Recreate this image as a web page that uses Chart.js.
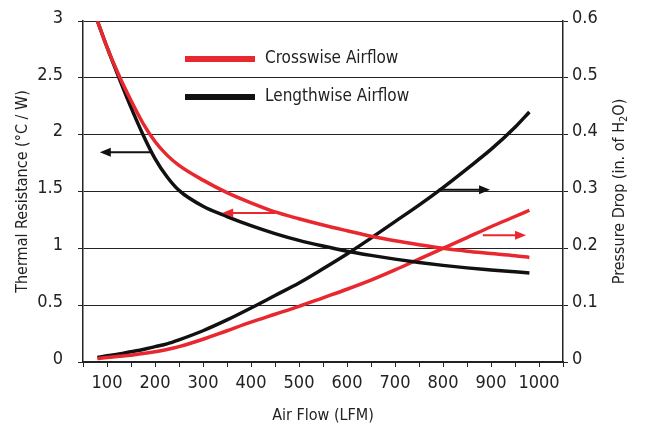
<!DOCTYPE html>
<html>
<head>
<meta charset="utf-8">
<script src="https://cdn.jsdelivr.net/npm/chart.js@4.4.1/dist/chart.umd.min.js"></script>
<style>
  html, body { margin: 0; padding: 0; background: #fff; }
  #wrap { width: 647px; height: 433px; }
</style>
</head>
<body>
<div id="wrap"><canvas id="chart" width="647" height="433"></canvas></div>
<script>
// Air flow (LFM) sample points shared by all four curves
const airflow = [80, 100, 125, 150, 175, 200, 225, 250, 300, 350, 400, 450, 500, 550, 600, 650, 700, 750, 800, 850, 900, 950, 980];

// Thermal resistance, deg C / W (left axis)
const resCross  = [3.0, 2.77, 2.52, 2.3, 2.1, 1.94, 1.82, 1.73, 1.6, 1.49, 1.4, 1.32, 1.26, 1.205, 1.155, 1.107, 1.067, 1.032, 1.0, 0.975, 0.955, 0.935, 0.92];
const resLength = [3.0, 2.77, 2.5, 2.24, 2.0, 1.79, 1.63, 1.51, 1.37, 1.28, 1.2, 1.13, 1.07, 1.02, 0.975, 0.938, 0.905, 0.876, 0.85, 0.828, 0.81, 0.793, 0.783];

// Pressure drop, in. of H2O (right axis)
const dropCross  = [0.006, 0.008, 0.01, 0.012, 0.015, 0.018, 0.022, 0.027, 0.04, 0.055, 0.07, 0.084, 0.098, 0.113, 0.128, 0.144, 0.162, 0.181, 0.2, 0.219, 0.238, 0.256, 0.267];
const dropLength = [0.008, 0.011, 0.014, 0.018, 0.022, 0.027, 0.032, 0.039, 0.055, 0.074, 0.095, 0.117, 0.139, 0.164, 0.19, 0.218, 0.247, 0.276, 0.307, 0.34, 0.374, 0.413, 0.44];

const seriesNames = ["Crosswise Airflow", "Lengthwise Airflow"];

// Arrows pointing each curve to its axis: [fromX, toX, yValue, axisId, color]
const arrows = [
  [194, 85, 1.845, "y", "#111"],
  [450, 340, 1.31, "y", "#e8282e"],
  [790, 898, 0.303, "y1", "#111"],
  [883, 973, 0.223, "y1", "#e8282e"],
];

const RED = "#e8282e";
const BLACK = "#111";
const INK = "#222";
const FONT = "'DejaVu Sans Condensed', 'Liberation Sans Narrow', sans-serif";

function pts(ys) {
  return airflow.map((x, i) => ({ x, y: ys[i] }));
}

function curve(label, ys, color, axis) {
  return {
    label,
    data: pts(ys),
    yAxisID: axis,
    borderColor: color,
    backgroundColor: color,
    borderWidth: 3.5,
    pointRadius: 0,
    cubicInterpolationMode: "monotone",
    fill: false,
  };
}

const arrowPlugin = {
  id: "arrows",
  afterDatasetsDraw(chart) {
    const ctx = chart.ctx;
    const xs = chart.scales.x;
    for (const [x0, x1, yv, axis, color] of arrows) {
      const ys = chart.scales[axis];
      const px0 = xs.getPixelForValue(x0);
      const px1 = xs.getPixelForValue(x1);
      const py = ys.getPixelForValue(yv);
      const dir = px1 > px0 ? 1 : -1;
      ctx.save();
      ctx.strokeStyle = color;
      ctx.fillStyle = color;
      ctx.lineWidth = 2;
      ctx.beginPath();
      ctx.moveTo(px0, py);
      ctx.lineTo(px1 - dir * 8, py);
      ctx.stroke();
      ctx.beginPath();
      ctx.moveTo(px1, py);
      ctx.lineTo(px1 - dir * 11, py - 4.5);
      ctx.lineTo(px1 - dir * 11, py + 4.5);
      ctx.closePath();
      ctx.fill();
      ctx.restore();
    }
  },
};

// Legend rows and the right axis title (reads bottom to top, like the left one)
const extrasPlugin = {
  id: "extras",
  afterDraw(chart) {
    const ctx = chart.ctx;
    const rows = [[seriesNames[0], RED, 59], [seriesNames[1], BLACK, 97]];
    ctx.save();
    for (const [name, color, y] of rows) {
      ctx.fillStyle = color;
      ctx.fillRect(185, y - 3, 70, 6);
      ctx.fillStyle = INK;
      ctx.font = `17px ${FONT}`;
      ctx.textBaseline = "middle";
      ctx.fillText(name, 265, y);
    }
    ctx.restore();

    const area = chart.chartArea;
    const parts = [["Pressure Drop (in. of H", 16, 0], ["2", 11, 4], ["O)", 16, 0]];
    ctx.save();
    ctx.fillStyle = INK;
    ctx.textBaseline = "middle";
    let total = 0;
    for (const [t, sz] of parts) { ctx.font = `${sz}px ${FONT}`; total += ctx.measureText(t).width; }
    ctx.translate(620, (area.top + area.bottom) / 2);
    ctx.rotate(-Math.PI / 2);
    let x = -total / 2;
    for (const [t, sz, dy] of parts) {
      ctx.font = `${sz}px ${FONT}`;
      ctx.fillText(t, x, dy);
      x += ctx.measureText(t).width;
    }
    ctx.restore();
  },
};

const tickFont = { family: FONT, size: 18 };
const titleFont = { family: FONT, size: 16 };

// vertical axes: fixed width, and no extra room reserved for the end labels
function fixWidth(w) {
  return (s) => { s.width = w; s.paddingTop = 0; s.paddingBottom = 0; };
}

new Chart(document.getElementById("chart").getContext("2d"), {
  type: "line",
  data: {
    datasets: [
      curve(seriesNames[0], resCross, RED, "y"),
      curve(seriesNames[1], resLength, BLACK, "y"),
      curve(seriesNames[0], dropCross, RED, "y1"),
      curve(seriesNames[1], dropLength, BLACK, "y1"),
    ],
  },
  options: {
    responsive: false,
    animation: false,
    layout: { padding: { top: 21, left: 0, right: 0, bottom: 0 } },
    plugins: { legend: { display: false }, tooltip: { enabled: false } },
    scales: {
      x: {
        type: "linear",
        min: 50,
        max: 1050,
        afterFit: (s) => { s.height = 71; },
        ticks: {
          stepSize: 50,
          autoSkip: false,
          maxRotation: 0,
          color: INK,
          font: tickFont,
          padding: 6,
          callback: (v) => (v % 100 === 0 ? String(v) : ""),
        },
        grid: { drawOnChartArea: false, drawTicks: true, tickLength: 5, color: INK },
        border: { color: INK, width: 1.5 },
        title: { display: true, text: "Air Flow (LFM)", color: INK, font: titleFont, padding: { top: 4, bottom: 8 } },
      },
      y: {
        position: "left",
        min: 0,
        max: 3,
        afterFit: fixWidth(83),
        ticks: {
          stepSize: 0.5,
          color: INK,
          font: tickFont,
          padding: 15,
          labelOffset: -3,
          callback: (v) => String(Math.round(v * 10) / 10),
        },
        grid: { color: INK, lineWidth: 1, tickLength: 5 },
        border: { color: INK, width: 1.5 },
        title: { display: true, text: "Thermal Resistance (°C / W)", color: INK, font: titleFont, padding: { top: 13, bottom: 0 } },
      },
      y1: {
        position: "right",
        min: 0,
        max: 0.6,
        afterFit: fixWidth(84),
        ticks: {
          stepSize: 0.1,
          color: INK,
          font: tickFont,
          padding: 4,
          labelOffset: -3,
          callback: (v) => String(Math.round(v * 10) / 10),
        },
        grid: { drawOnChartArea: false, tickLength: 5, color: INK },
        border: { color: INK, width: 1.5 },
        title: { display: false },
      },
    },
  },
  plugins: [arrowPlugin, extrasPlugin],
});
</script>
</body>
</html>
